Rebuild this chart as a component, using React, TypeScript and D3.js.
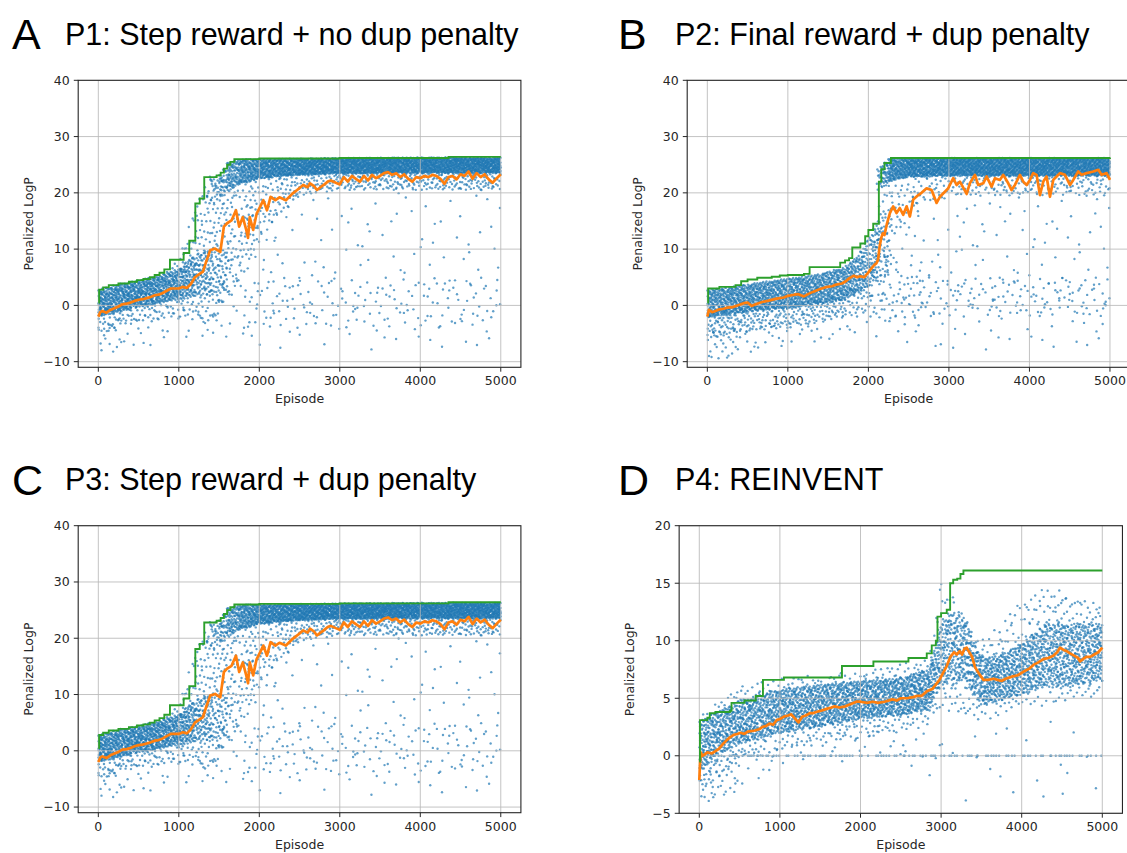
import React from 'react';
import * as d3 from 'd3';

type Pt = [number, number];
// [episode, lower bound, upper bound, dots per 100 episodes until the next knot]
type Knot = [number, number, number, number];

const W = 1127;
const H = 853;

const episodeTicks = [0, 1000, 2000, 3000, 4000, 5000];
const logpTicks = [-10, 0, 10, 20, 30, 40];
const reinventTicks = [-5, 0, 5, 10, 15, 20];

// ---------- P1: step reward, no duplicate penalty ----------
const p1Best: Pt[] = [
  [0, 0.5], [10, 2.8], [60, 3.2], [130, 3.6], [250, 3.9], [380, 4.2], [480, 4.5], [560, 4.7],
  [640, 5.0], [700, 5.4], [760, 5.8], [820, 6.4], [890, 8.1], [1060, 9.3], [1130, 11.5],
  [1205, 18.1], [1260, 19.0], [1316, 22.8], [1470, 23.1], [1520, 23.6], [1560, 24.3],
  [1600, 25.0], [1640, 25.5], [1690, 26.0], [2000, 26.1], [3000, 26.2], [4350, 26.4], [5000, 26.4],
];
const p1Mean: Pt[] = [
  [0, -2.0], [25, -1.2], [50, -1.0], [100, -1.3], [150, -0.8], [200, -0.5], [250, -0.2], [300, 0.2],
  [350, 0.3], [400, 0.5], [450, 0.8], [500, 1.0], [550, 1.1], [600, 1.3], [650, 1.5], [700, 1.8],
  [750, 1.9], [800, 2.2], [850, 2.6], [900, 3.0], [950, 3.0], [1000, 3.0], [1050, 3.3], [1100, 3.1],
  [1150, 3.8], [1200, 5.0], [1250, 5.5], [1300, 6.0], [1345, 8.0], [1390, 9.8], [1450, 10.1],
  [1515, 9.5], [1560, 14.0], [1600, 14.6], [1655, 15.1], [1710, 16.9], [1750, 14.0], [1795, 15.7],
  [1838, 13.4], [1860, 12.0], [1881, 15.7], [1924, 13.4], [1967, 16.3], [2010, 17.5], [2050, 18.7],
  [2095, 16.9], [2140, 19.3], [2200, 18.7], [2250, 19.2], [2330, 18.7], [2415, 19.9], [2470, 20.5],
  [2545, 21.4], [2600, 21.0], [2630, 21.7], [2680, 21.2], [2716, 20.5], [2760, 21.0], [2800, 21.4],
  [2850, 22.0], [2888, 22.2], [2950, 21.8], [3000, 21.5], [3050, 22.8], [3100, 22.0], [3150, 23.0],
  [3200, 22.5], [3250, 22.0], [3300, 23.0], [3350, 22.2], [3400, 23.2], [3450, 22.6], [3500, 23.0],
  [3550, 23.5], [3600, 23.7], [3650, 23.2], [3700, 23.5], [3750, 22.8], [3800, 23.3], [3850, 22.5],
  [3900, 22.0], [3950, 22.8], [4000, 22.6], [4050, 23.0], [4100, 22.8], [4150, 23.2], [4200, 23.0],
  [4250, 22.5], [4300, 21.6], [4350, 22.8], [4400, 23.0], [4450, 22.4], [4500, 23.3], [4550, 23.0],
  [4600, 23.8], [4650, 22.5], [4700, 23.5], [4750, 22.8], [4800, 23.3], [4850, 22.4], [4900, 21.8],
  [4950, 22.6], [5000, 23.3],
];
const p1EarlyBand: Knot[] = [
  [0, -2.0, 2.8, 70], [250, -1.2, 3.8, 72], [500, -0.3, 4.5, 72], [750, 0.3, 5.3, 70],
  [1000, 1.0, 6.5, 62], [1200, 1.5, 9.0, 40], [1400, 2.0, 10.0, 20], [1600, 2.0, 10.0, 0],
];
const p1TopBand: Knot[] = [
  [1350, 18.0, 22.8, 12], [1500, 19.0, 23.5, 30], [1600, 20.0, 25.3, 55], [1750, 21.5, 26.0, 70],
  [2000, 22.5, 26.0, 75], [2500, 23.2, 26.1, 78], [3000, 23.4, 26.2, 80], [4000, 23.5, 26.3, 80],
  [5000, 23.5, 26.3, 0],
];
const p1Spread: Knot[] = [
  [0, -5.0, 2.0, 20], [250, -4.0, 3.0, 18], [500, -3.0, 4.0, 18], [750, -2.5, 5.0, 18],
  [1000, -2.0, 8.0, 25], [1200, -3.0, 18.0, 40], [1400, -3.0, 23.0, 45], [1550, 0.0, 23.0, 35],
  [1700, 2.0, 22.0, 25], [2000, 12.0, 23.0, 15], [2500, 19.5, 23.5, 12], [3000, 20.5, 23.5, 12],
  [5000, 20.5, 23.5, 0],
];
const p1Outliers: Knot[] = [
  [0, -9.5, -3.0, 5], [300, -8.0, -2.0, 3], [700, -7.0, -1.0, 2], [1000, -6.0, 0.0, 3],
  [1400, -6.0, 2.0, 5], [1800, -6.0, 15.0, 7], [2200, -8.0, 20.0, 5], [2600, -8.0, 20.0, 4],
  [5000, -8.0, 20.0, 0],
];
const p1NearZero: Knot[] = [[1800, -4.0, 5.0, 4], [5000, -4.0, 5.0, 0]];

// ---------- P2: final reward, duplicate penalty ----------
const p2Best: Pt[] = [
  [0, 0.5], [10, 3.0], [150, 3.3], [350, 3.6], [420, 4.3], [500, 4.6], [620, 4.9], [800, 5.1],
  [900, 5.3], [1000, 5.4], [1200, 5.6], [1270, 6.8], [1650, 7.6], [1710, 8.0], [1760, 8.4],
  [1800, 10.3], [1900, 11.0], [1960, 12.3], [2000, 13.4], [2060, 14.5], [2130, 22.0],
  [2160, 24.2], [2200, 25.3], [2280, 26.2], [5000, 26.3],
];
const p2Mean: Pt[] = [
  [0, -2.0], [20, -0.8], [60, -1.2], [100, -1.0], [150, -0.7], [200, -0.6], [250, -0.4], [320, -0.3],
  [400, 0.1], [450, 0.4], [500, 0.5], [550, -0.1], [600, 0.2], [680, 0.6], [750, 0.8], [860, 1.2],
  [950, 1.4], [1000, 1.7], [1080, 1.9], [1130, 2.0], [1200, 1.6], [1250, 2.0], [1310, 2.4],
  [1400, 2.9], [1490, 3.3], [1550, 3.4], [1600, 3.7], [1670, 3.9], [1720, 4.3], [1760, 4.8],
  [1820, 5.3], [1860, 5.0], [1895, 5.2], [1950, 5.0], [2007, 6.0], [2050, 6.8], [2075, 7.2],
  [2100, 7.5], [2120, 8.1], [2142, 10.7], [2160, 12.0], [2178, 12.8], [2200, 12.5], [2230, 14.5],
  [2267, 16.4], [2308, 17.6], [2350, 16.4], [2390, 17.3], [2433, 16.1], [2475, 17.6], [2515, 15.8],
  [2557, 18.8], [2620, 19.6], [2660, 20.0], [2723, 20.8], [2785, 20.5], [2847, 18.2], [2888, 19.3],
  [2950, 20.2], [2990, 20.8], [3054, 22.6], [3095, 21.4], [3137, 22.0], [3220, 19.8], [3260, 21.7],
  [3323, 23.2], [3364, 21.4], [3426, 21.7], [3468, 22.9], [3530, 21.1], [3571, 22.6], [3633, 22.3],
  [3675, 23.2], [3737, 21.7], [3778, 20.5], [3820, 21.4], [3882, 23.2], [3923, 22.0], [3965, 21.4],
  [4006, 22.3], [4047, 23.5], [4089, 23.2], [4130, 19.6], [4172, 22.0], [4213, 22.9], [4255, 19.3],
  [4296, 22.3], [4337, 22.9], [4379, 23.5], [4441, 23.2], [4503, 21.4], [4544, 22.3], [4606, 23.8],
  [4648, 23.2], [4710, 23.5], [4793, 23.8], [4855, 24.1], [4896, 23.2], [4958, 23.5], [5000, 22.3],
];
const p2EarlyBand: Knot[] = [
  [0, -2.2, 2.8, 68], [300, -1.5, 3.3, 70], [600, -1.0, 4.0, 72], [1000, -0.5, 4.8, 72],
  [1400, 0.2, 5.6, 72], [1700, 1.0, 6.8, 70], [1850, 2.0, 8.5, 65], [2000, 3.0, 12.0, 50],
  [2150, 5.0, 16.0, 20], [2250, 5.0, 16.0, 0],
];
const p2TopBand: Knot[] = [
  [2100, 20.0, 24.0, 15], [2150, 20.5, 25.0, 45], [2250, 22.0, 26.0, 72], [2500, 22.8, 26.1, 80],
  [3000, 23.0, 26.2, 82], [5000, 23.0, 26.2, 0],
];
const p2Spread: Knot[] = [
  [0, -6.0, -1.0, 20], [300, -5.0, -0.5, 18], [600, -4.5, 0.0, 16], [1000, -4.0, 0.5, 15],
  [1400, -3.0, 1.0, 14], [1700, -2.0, 2.0, 12], [2000, -2.0, 6.0, 20], [2150, -3.0, 20.0, 30],
  [2300, 10.0, 23.0, 10], [2600, 18.0, 23.0, 8], [3000, 19.5, 23.0, 8], [5000, 19.5, 23.0, 0],
];
const p2Outliers: Knot[] = [
  [0, -10.5, -5.0, 6], [400, -9.0, -4.0, 3], [1000, -7.0, -3.0, 2], [1700, -6.0, -2.0, 2],
  [2100, -6.0, 5.0, 3], [2250, -5.0, 18.0, 8], [2700, -8.0, 20.0, 5], [5000, -8.0, 20.0, 0],
];
const p2NearZero: Knot[] = [[2200, -3.0, 8.0, 8], [2700, -2.0, 5.0, 5], [5000, -2.0, 5.0, 0]];

// ---------- P3: step reward, duplicate penalty (same run curves as P1) ----------
const p3Best: Pt[] = p1Best;
const p3Mean: Pt[] = p1Mean;
const p3EarlyBand: Knot[] = p1EarlyBand;
const p3TopBand: Knot[] = p1TopBand;
const p3Spread: Knot[] = p1Spread;
const p3Outliers: Knot[] = p1Outliers;
const p3NearZero: Knot[] = p1NearZero;

// ---------- P4: REINVENT ----------
const p4Best: Pt[] = [
  [0, -0.5], [8, 3.1], [100, 3.3], [130, 3.7], [200, 3.8], [380, 3.9], [400, 4.6], [560, 4.8],
  [700, 5.2], [790, 6.6], [1050, 6.8], [1770, 7.8], [2160, 8.2], [2595, 8.5], [2822, 8.9],
  [2884, 9.6], [2935, 10.0], [2955, 12.1], [3000, 12.4], [3070, 12.7], [3112, 15.0], [3150, 15.3],
  [3200, 15.4], [3240, 15.8], [3277, 16.1], [5000, 16.1],
];
const p4Mean: Pt[] = [
  [0, -2.1], [10, -0.5], [18, 0.3], [40, 0.0], [63, 0.1], [100, 0.3], [153, 0.2], [200, 0.4],
  [242, 0.6], [290, 1.0], [332, 1.3], [380, 1.6], [422, 1.8], [470, 1.9], [512, 2.0], [560, 1.9],
  [600, 2.1], [691, 2.2], [740, 2.3], [781, 2.5], [830, 2.6], [870, 2.8], [916, 2.7], [960, 3.1],
  [1000, 3.2], [1050, 3.4], [1100, 3.5], [1140, 3.6], [1180, 3.3], [1230, 2.9], [1275, 3.4],
  [1320, 3.5], [1370, 3.7], [1409, 3.7], [1450, 3.8], [1500, 3.9], [1589, 4.1], [1640, 4.2],
  [1679, 4.3], [1740, 4.2], [1813, 4.3], [1880, 4.5], [1948, 4.7], [2000, 4.7], [2083, 4.6],
  [2150, 4.7], [2217, 4.6], [2300, 4.7], [2397, 4.9], [2450, 4.8], [2500, 5.0], [2576, 5.0],
  [2650, 5.1], [2700, 5.2], [2756, 5.2], [2822, 5.6], [2890, 5.8], [2946, 6.3], [2980, 6.6],
  [3025, 7.2], [3070, 7.8], [3115, 8.6], [3160, 9.0], [3194, 8.8], [3230, 9.1], [3260, 8.8],
  [3290, 9.3], [3317, 9.4], [3350, 9.0], [3384, 8.6], [3421, 7.7], [3474, 7.1], [3525, 6.6],
  [3580, 6.6], [3654, 6.7], [3700, 6.6], [3750, 6.5], [3800, 6.7], [3890, 6.9], [3950, 7.0],
  [4020, 7.3], [4100, 7.6], [4145, 7.9], [4200, 8.1], [4269, 8.4], [4330, 8.5], [4393, 8.7],
  [4440, 9.0], [4475, 9.4], [4520, 9.2], [4558, 9.1], [4600, 8.9], [4650, 8.7], [4700, 8.5],
  [4723, 8.2], [4760, 8.4], [4800, 8.6], [4850, 8.6], [4900, 8.8], [4950, 9.0], [5000, 9.4],
];
const p4Core: Knot[] = [
  [0, -1.5, 3.0, 55], [200, 0.0, 3.8, 60], [500, 1.0, 4.8, 65], [1000, 2.0, 5.8, 68],
  [1500, 2.5, 6.2, 68], [2000, 3.2, 6.5, 68], [2500, 3.5, 6.8, 68], [2850, 4.0, 7.5, 68],
  [3000, 6.0, 11.5, 60], [3150, 6.5, 12.5, 60], [3300, 6.5, 12.0, 62], [3420, 5.0, 9.5, 68],
  [3550, 4.5, 8.5, 70], [3750, 4.8, 8.8, 70], [4000, 5.3, 9.8, 70], [4300, 6.0, 11.5, 65],
  [4600, 6.0, 11.5, 65], [5000, 6.5, 11.5, 0],
];
const p4Spread: Knot[] = [
  [0, -3.0, 3.5, 25], [200, -2.0, 4.5, 20], [500, -0.5, 6.0, 18], [1000, 0.5, 6.8, 18],
  [2000, 1.5, 7.3, 18], [2850, 2.5, 8.5, 18], [3000, 4.0, 15.5, 25], [3300, 3.5, 12.0, 20],
  [3500, 3.0, 10.0, 18], [4000, 4.0, 13.5, 20], [4400, 4.5, 15.0, 25], [4700, 5.0, 13.5, 22],
  [5000, 5.0, 13.5, 0],
];
const p4ZeroScores: Knot[] = [[150, 0, 0, 2.2], [5000, 0, 0, 0]];
const p4Outliers: Knot[] = [
  [0, -4.5, -1.0, 8], [500, -3.0, 0.5, 3], [1000, -1.0, 2.5, 2], [2500, 0.0, 3.0, 2],
  [3000, -4.0, 3.0, 1], [5000, -4.0, 3.0, 0],
];

// Leaped Halton sequence: deterministic, evenly spread positions for the dots of a band
function halton(i: number, base: number): number {
  let f = 1;
  let r = 0;
  let n = i;
  while (n > 0) {
    f /= base;
    r += f * (n % base);
    n = Math.floor(n / base);
  }
  return r;
}

function bandDots(knots: Knot[], offset: number): Pt[] {
  const pts: Pt[] = [];
  let k = offset;
  for (let i = 0; i < knots.length - 1; i++) {
    const [x0, lo0, hi0, per100] = knots[i];
    const [x1, lo1, hi1] = knots[i + 1];
    const n = Math.round((per100 * (x1 - x0)) / 100);
    for (let j = 0; j < n; j++) {
      k += 1;
      const u = halton(k * 409, 2);
      const v = halton(k * 409, 3);
      const lo = lo0 + (lo1 - lo0) * u;
      const hi = hi0 + (hi1 - hi0) * u;
      pts.push([x0 + u * (x1 - x0), lo + v * (hi - lo)]);
    }
  }
  return pts;
}

type Box = { left: number; right: number; top: number; bottom: number };
type PanelSpec = {
  id: string;
  letter: string;
  title: string;
  letterX: number;
  titleX: number;
  box: Box;
  yDomain: [number, number];
  yTicks: number[];
  best: Pt[];
  mean: Pt[];
  clouds: Knot[][];
};

const panels: PanelSpec[] = [
  {
    id: 'a', letter: 'A', title: 'P1: Step reward + no dup penalty', letterX: 12, titleX: 65,
    box: { left: 78.2, right: 520.9, top: 80.3, bottom: 367.3 }, yDomain: [-11, 40], yTicks: logpTicks,
    best: p1Best, mean: p1Mean, clouds: [p1EarlyBand, p1TopBand, p1Spread, p1Outliers, p1NearZero],
  },
  {
    id: 'b', letter: 'B', title: 'P2: Final reward + dup penalty', letterX: 618, titleX: 675,
    box: { left: 687.2, right: 1130.1, top: 80.3, bottom: 367.3 }, yDomain: [-11, 40], yTicks: logpTicks,
    best: p2Best, mean: p2Mean, clouds: [p2EarlyBand, p2TopBand, p2Spread, p2Outliers, p2NearZero],
  },
  {
    id: 'c', letter: 'C', title: 'P3: Step reward + dup penalty', letterX: 12, titleX: 65,
    box: { left: 78.2, right: 520.9, top: 525.7, bottom: 812.7 }, yDomain: [-11, 40], yTicks: logpTicks,
    best: p3Best, mean: p3Mean, clouds: [p3EarlyBand, p3TopBand, p3Spread, p3Outliers, p3NearZero],
  },
  {
    id: 'd', letter: 'D', title: 'P4: REINVENT', letterX: 618, titleX: 675,
    box: { left: 679.15, right: 1122.45, top: 525.7, bottom: 813.3 }, yDomain: [-5, 20], yTicks: reinventTicks,
    best: p4Best, mean: p4Mean, clouds: [p4Core, p4Spread, p4ZeroScores, p4Outliers],
  },
];

const TICK_FONT = "'DejaVu Sans', sans-serif";
const TITLE_FONT = "'Liberation Sans', Arial, sans-serif";
const INK = '#262626';

function fmt(v: number): string {
  return v < 0 ? `\u2212${Math.abs(v)}` : `${v}`;
}

function Panel({ p }: { p: PanelSpec }) {
  const { box } = p;
  const x = d3.scaleLinear().domain([-250, 5250]).range([box.left, box.right]);
  const y = d3.scaleLinear().domain(p.yDomain).range([box.bottom, box.top]);

  const dots: Pt[] = [];
  p.clouds.forEach((c, i) => {
    bandDots(c, 17 + i * 4099).forEach((d) => dots.push(d));
  });

  const stepLine = d3.line<Pt>().x((d) => x(d[0])).y((d) => y(d[1])).curve(d3.curveStepAfter);
  const meanLine = d3.line<Pt>().x((d) => x(d[0])).y((d) => y(d[1]));
  const clipId = `clip-${p.id}`;
  const midX = (box.left + box.right) / 2;
  const midY = (box.top + box.bottom) / 2;

  return (
    <g>
      <text x={p.letterX} y={box.top - 31} fontFamily={TITLE_FONT} fontSize={43} fill="#000">
        {p.letter}
      </text>
      <text x={p.titleX} y={box.top - 35.3} fontFamily={TITLE_FONT} fontSize={30.5} fill="#000">
        {p.title}
      </text>
      <defs>
        <clipPath id={clipId}>
          <rect x={box.left} y={box.top} width={box.right - box.left} height={box.bottom - box.top} />
        </clipPath>
      </defs>
      <g clipPath={`url(#${clipId})`}>
        {dots.map((d, i) => (
          <circle key={i} cx={x(d[0])} cy={y(d[1])} r={1.2} fill="#1f77b4" fillOpacity={0.7} />
        ))}
        {episodeTicks.map((t) => (
          <line key={`gx${t}`} x1={x(t)} x2={x(t)} y1={box.top} y2={box.bottom} stroke="#b8b8b8" strokeWidth={1} strokeOpacity={0.85} />
        ))}
        {p.yTicks.map((t) => (
          <line key={`gy${t}`} x1={box.left} x2={box.right} y1={y(t)} y2={y(t)} stroke="#b8b8b8" strokeWidth={1} strokeOpacity={0.85} />
        ))}
        <path d={meanLine(p.mean) ?? ''} fill="none" stroke="#ff7f0e" strokeWidth={2.7} strokeLinejoin="round" />
        <path d={stepLine(p.best) ?? ''} fill="none" stroke="#2ca02c" strokeWidth={1.9} />
      </g>
      <rect x={box.left} y={box.top} width={box.right - box.left} height={box.bottom - box.top} fill="none" stroke={INK} strokeWidth={1.1} />
      {episodeTicks.map((t) => (
        <g key={`tx${t}`}>
          <line x1={x(t)} x2={x(t)} y1={box.bottom} y2={box.bottom + 4.4} stroke={INK} strokeWidth={1} />
          <text x={x(t)} y={box.bottom + 18} textAnchor="middle" fontFamily={TICK_FONT} fontSize={12.5} fill={INK}>
            {fmt(t)}
          </text>
        </g>
      ))}
      {p.yTicks.map((t) => (
        <g key={`ty${t}`}>
          <line x1={box.left - 4.4} x2={box.left} y1={y(t)} y2={y(t)} stroke={INK} strokeWidth={1} />
          <text x={box.left - 8.5} y={y(t)} dy="0.35em" textAnchor="end" fontFamily={TICK_FONT} fontSize={12.5} fill={INK}>
            {fmt(t)}
          </text>
        </g>
      ))}
      <text x={midX} y={box.bottom + 36} textAnchor="middle" fontFamily={TICK_FONT} fontSize={12.5} fill={INK}>
        Episode
      </text>
      <text
        transform={`translate(${box.left - 49.5},${midY}) rotate(-90)`}
        dy="0.35em"
        textAnchor="middle"
        fontFamily={TICK_FONT}
        fontSize={12.5}
        fill={INK}
      >
        Penalized LogP
      </text>
    </g>
  );
}

export default function App() {
  return (
    <svg
      width={W}
      height={H}
      viewBox={`0 0 ${W} ${H}`}
      style={{ position: 'absolute', left: 0, top: 0, background: '#fff', display: 'block' }}
    >
      <rect x={0} y={0} width={W} height={H} fill="#fff" />
      {panels.map((p) => (
        <Panel key={p.id} p={p} />
      ))}
    </svg>
  );
}
